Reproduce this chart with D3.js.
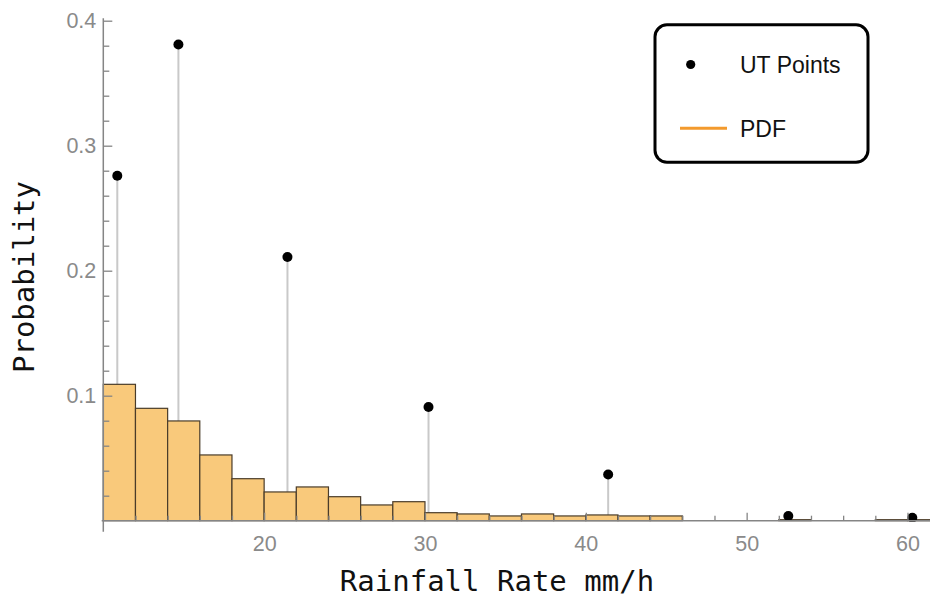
<!DOCTYPE html>
<html>
<head>
<meta charset="utf-8">
<script src="https://cdn.jsdelivr.net/npm/d3@7"></script>
<style>
  body { margin: 0; background: #fff; }
  svg { display: block; }
</style>
</head>
<body>
<svg id="chart" width="930" height="601"></svg>
<script>
// Histogram bins (left edge, mm/h) and probability per bin
const binStart = [10, 12, 14, 16, 18, 20, 22, 24, 26, 28, 30, 32, 34, 36, 38, 40, 42, 44, 46, 48, 50, 52, 54, 56, 58, 60];
const binProb  = [0.1091, 0.0899, 0.0798, 0.0526, 0.0336, 0.0230, 0.0270, 0.0192, 0.0126, 0.0152,
                  0.0064, 0.0054, 0.0038, 0.0054, 0.0038, 0.0046, 0.0038, 0.0038, 0, 0,
                  0, 0.0008, 0, 0, 0.0008, 0.0008];
const binWidth = 2;

// Unscented-transform sigma points: rainfall rate and weight
const utRate = [10.87, 14.67, 21.45, 30.22, 41.39, 52.59, 60.30];
const utProb = [0.276, 0.381, 0.211, 0.091, 0.037, 0.0038, 0.0024];

// Axis ticks
const xMajor = [20, 30, 40, 50, 60];
const xMinor = [12, 14, 16, 18, 22, 24, 26, 28, 32, 34, 36, 38, 42, 44, 46, 48, 52, 54, 56, 58];
const yMajor = [0.1, 0.2, 0.3, 0.4];
const yMinor = [0.02, 0.04, 0.06, 0.08, 0.12, 0.14, 0.16, 0.18, 0.22, 0.24, 0.26, 0.28, 0.32, 0.34, 0.36, 0.38];

const legendItems = ["UT Points", "PDF"];

const svg = d3.select("#chart");
const W = 930, H = 601;

const x = d3.scaleLinear().domain([10, 61.4]).range([103.3, 930]);
const y = d3.scaleLinear().domain([0, 0.4]).range([520.7, 20.7]);

const axisColor = "#858585";
const labelColor = "#8a8a8a";
const sans = "'Liberation Sans', Arial, sans-serif";

svg.append("defs").append("clipPath").attr("id", "plotClip")
  .append("rect").attr("x", x(10) - 2).attr("y", 0).attr("width", W - x(10) + 2).attr("height", y(0) + 1);

const plot = svg.append("g").attr("clip-path", "url(#plotClip)");

// Stems from each UT point down to the axis (behind the bars)
plot.append("g").selectAll("line")
  .data(utRate.map((r, i) => ({ r, p: utProb[i] })))
  .join("line")
  .attr("x1", d => x(d.r)).attr("x2", d => x(d.r))
  .attr("y1", d => y(d.p)).attr("y2", y(0))
  .attr("stroke", "#c9c9c9")
  .attr("stroke-width", 2);

// Histogram bars
const bins = binStart.map((s, i) => ({ s, p: binProb[i] })).filter(d => d.p > 0);
plot.append("g").selectAll("rect")
  .data(bins)
  .join("rect")
  .attr("x", d => x(d.s))
  .attr("width", d => x(d.s + binWidth) - x(d.s))
  .attr("y", d => y(d.p))
  .attr("height", d => y(0) - y(d.p))
  .attr("fill", "#f9c97b")
  .attr("stroke", "#4a3c2a")
  .attr("stroke-width", 1.2);

// Axis lines
svg.append("line")
  .attr("x1", x(10) - 1.6).attr("x2", W)
  .attr("y1", y(0)).attr("y2", y(0))
  .attr("stroke", axisColor).attr("stroke-width", 1.5);
svg.append("line")
  .attr("x1", x(10)).attr("x2", x(10))
  .attr("y1", y(0.4) - 2.4).attr("y2", y(0) + 11)
  .attr("stroke", axisColor).attr("stroke-width", 1.5);

// X axis ticks
const gx = svg.append("g").attr("transform", `translate(0,${y(0)})`);
gx.append("g").call(d3.axisBottom(x).tickValues(xMinor).tickSizeInner(-5).tickSizeOuter(0).tickFormat(""));
gx.append("g").call(d3.axisBottom(x).tickValues(xMajor).tickSizeInner(-8).tickSizeOuter(0).tickPadding(15));
gx.selectAll(".domain").remove();
gx.selectAll(".tick line").attr("stroke", axisColor).attr("stroke-width", 1.3);
gx.selectAll(".tick text")
  .attr("fill", labelColor)
  .style("font-family", sans)
  .style("font-size", "21.5px");

// Y axis ticks
const gy = svg.append("g").attr("transform", `translate(${x(10)},0)`);
gy.append("g").call(d3.axisLeft(y).tickValues(yMinor).tickSizeInner(-6).tickSizeOuter(0).tickFormat(""));
gy.append("g").call(d3.axisLeft(y).tickValues(yMajor).tickSizeInner(-9).tickSizeOuter(0).tickPadding(7).tickFormat(d3.format(".1f")));
gy.selectAll(".domain").remove();
gy.selectAll(".tick line").attr("stroke", axisColor).attr("stroke-width", 1.3);
gy.selectAll(".tick text")
  .attr("fill", labelColor)
  .style("font-family", sans)
  .style("font-size", "21.5px");

// UT points
plot.append("g").selectAll("circle")
  .data(utRate.map((r, i) => ({ r, p: utProb[i] })))
  .join("circle")
  .attr("cx", d => x(d.r))
  .attr("cy", d => y(d.p))
  .attr("r", 5)
  .attr("fill", "#000");

// Axis titles
const mono = "'DejaVu Sans Mono', 'Liberation Mono', monospace";
svg.append("text")
  .attr("x", 497).attr("y", 591)
  .attr("text-anchor", "middle")
  .style("font-family", mono)
  .style("font-size", "29px")
  .attr("fill", "#111")
  .text("Rainfall Rate mm/h");

svg.append("text")
  .attr("transform", "translate(34,277) rotate(-90)")
  .attr("text-anchor", "middle")
  .style("font-family", mono)
  .style("font-size", "29px")
  .attr("fill", "#111")
  .text("Probability");

// Legend
const lg = svg.append("g");
lg.append("rect")
  .attr("x", 655).attr("y", 24.8)
  .attr("width", 213).attr("height", 137.5)
  .attr("rx", 12).attr("ry", 12)
  .attr("fill", "#fff")
  .attr("stroke", "#000")
  .attr("stroke-width", 3);
lg.append("circle").attr("cx", 690.7).attr("cy", 64.5).attr("r", 4.6).attr("fill", "#000");
lg.append("line")
  .attr("x1", 680).attr("x2", 727)
  .attr("y1", 128.3).attr("y2", 128.3)
  .attr("stroke", "#f39a2d").attr("stroke-width", 3);
lg.selectAll("text.item")
  .data(legendItems)
  .join("text")
  .attr("class", "item")
  .attr("x", 740)
  .attr("y", (d, i) => [73, 136.5][i])
  .style("font-family", sans)
  .style("font-size", "23px")
  .attr("fill", "#111")
  .text(d => d);
</script>
</body>
</html>
